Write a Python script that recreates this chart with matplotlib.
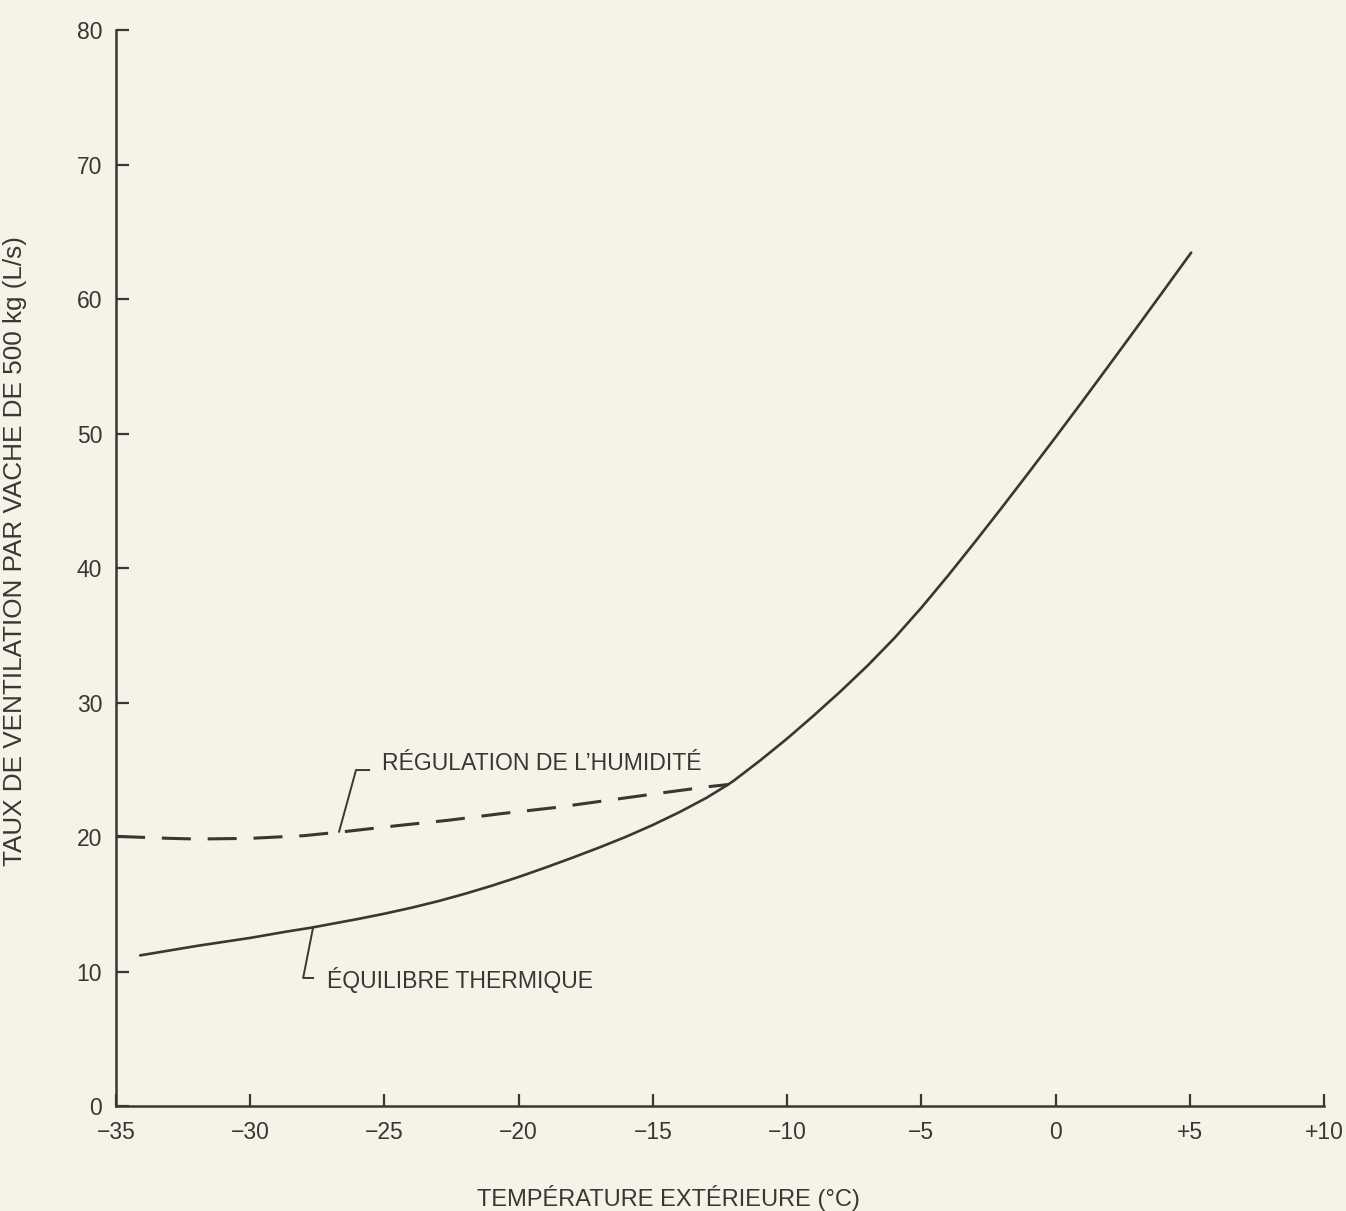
import matplotlib
matplotlib.use('Agg')
import matplotlib.pyplot as plt
from matplotlib.ticker import FixedLocator, FixedFormatter

# Courbe d'équilibre thermique (température extérieure en °C, débit en L/s)
temp_equilibre = [-34.1, -32, -30, -28.7, -27.7, -26, -25, -24, -23, -22, -21,
                  -20, -19, -18, -17, -16, -15, -14, -13, -12.2, -12, -11, -10,
                  -9, -8, -7, -6, -5, -4, -3, -2, -1, 0, 1, 2, 3, 4, 5.05]
debit_equilibre = [11.2, 11.9, 12.5, 12.95, 13.27, 13.9, 14.3, 14.74, 15.23,
                   15.78, 16.38, 17.03, 17.73, 18.46, 19.22, 20.02, 20.9, 21.86,
                   22.92, 23.9, 24.17, 25.7, 27.32, 29.05, 30.85, 32.75, 34.8,
                   37.05, 39.45, 41.95, 44.5, 47.1, 49.73, 52.4, 55.1, 57.82,
                   60.56, 63.45]

# Courbe de régulation de l'humidité
temp_humidite = [-35, -33, -32, -30, -28, -26.5, -24.5, -22.6, -20.6, -18.6,
                 -16.6, -14.6, -12.9, -12.2]
debit_humidite = [20.05, 19.9, 19.85, 19.9, 20.1, 20.4, 20.85, 21.25, 21.75,
                  22.2, 22.75, 23.3, 23.75, 23.9]

xticks = [-35, -30, -25, -20, -15, -10, -5, 0, 5, 10]
xticklabels = ['\u221235', '\u221230', '\u221225', '\u221220', '\u221215',
               '\u221210', '\u22125', '0', '+5', '+10']
yticks = [0, 10, 20, 30, 40, 50, 60, 70, 80]

fond = '#f6f2e7'
encre = '#3b3632'

plt.rcParams['font.family'] = ['Liberation Sans', 'DejaVu Sans']

fig = plt.figure(figsize=(13.46, 12.11), dpi=100, facecolor=fond)
ax = fig.add_axes([0.0862, 0.0867, 0.8975, 0.8885], facecolor=fond)

ax.plot(temp_equilibre, debit_equilibre, color=encre, lw=1.9,
        solid_capstyle='round', solid_joinstyle='round')
ax.plot(temp_humidite, debit_humidite, color=encre, lw=2.2,
        dashes=(9.5, 5.5), dash_capstyle='butt')

ax.set_xlim(-35, 10)
ax.set_ylim(0, 80)

for s in ['top', 'right']:
    ax.spines[s].set_visible(False)
for s in ['left', 'bottom']:
    ax.spines[s].set_color(encre)
    ax.spines[s].set_linewidth(1.8)

ax.xaxis.set_major_locator(FixedLocator(xticks))
ax.xaxis.set_major_formatter(FixedFormatter(xticklabels))
ax.yaxis.set_major_locator(FixedLocator(yticks))
ax.tick_params(direction='in', length=9, width=1.6, color=encre,
               labelcolor=encre, labelsize=16.5)
ax.tick_params(axis='x', pad=11)
ax.tick_params(axis='y', pad=10)

# petite croix à l'origine
ax.set_xticks([-35], minor=True)
ax.set_yticks([0], minor=True)
ax.tick_params(which='minor', direction='out', length=9, width=1.6,
               color=encre, labelbottom=False, labelleft=False)

ax.set_xlabel('TEMPÉRATURE EXTÉRIEURE (°C)', fontsize=17, color=encre)
ax.xaxis.set_label_coords(0.457, -0.0734)
ax.set_ylabel('TAUX DE VENTILATION PAR VACHE DE 500 kg (L/s)', fontsize=18.8,
              color=encre)
ax.yaxis.set_label_coords(-0.0737, 0.516)

# étiquettes avec leurs traits de rappel
etiq = dict(color=encre, fontsize=16.6)
ax.plot([-26.69, -26.06, -25.57], [20.4, 24.98, 24.98], color=encre, lw=1.4)
ax.text(-25.09, 24.98, 'RÉGULATION DE L\u2019HUMIDITÉ', va='baseline', **etiq)
ax.plot([-27.66, -28.03, -27.66], [13.27, 9.52, 9.52], color=encre, lw=1.4)
ax.text(-27.14, 9.37, 'ÉQUILIBRE THERMIQUE', va='center', **etiq)

fig.savefig('out.png', dpi=100, facecolor=fond)
plt.close(fig)
